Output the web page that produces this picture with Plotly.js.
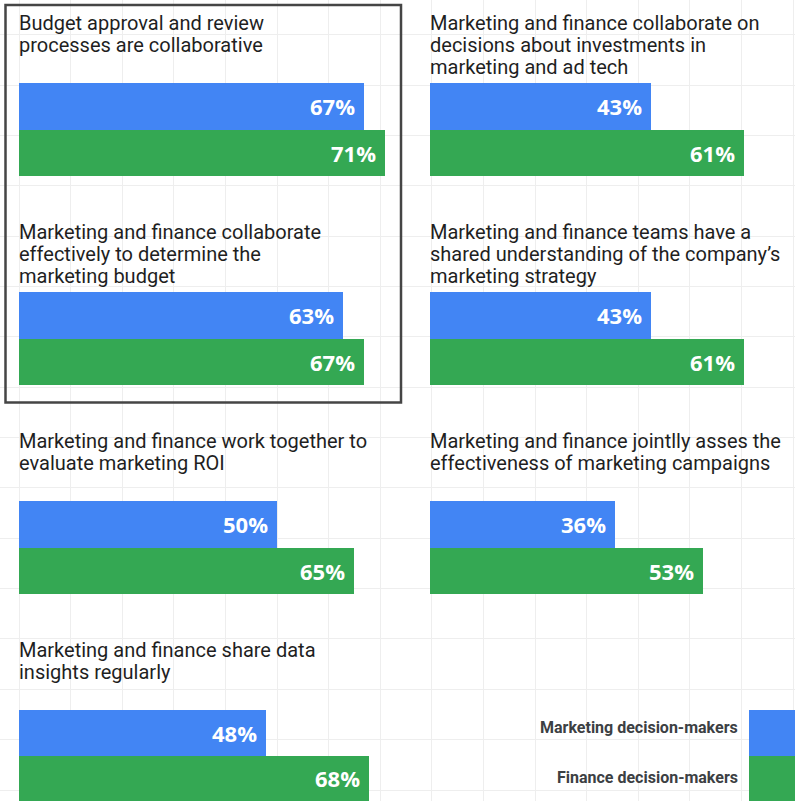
<!DOCTYPE html>
<html>
<head>
<meta charset="utf-8">
<script src="https://cdn.plot.ly/plotly-3.0.1.min.js"></script>
<style>
  html, body { margin: 0; padding: 0; background: #ffffff; }
  #chart { width: 795px; height: 801px; }
</style>
</head>
<body>
<div id="chart"></div>
<script>
// statements, in reading order (left column, right column, row by row)
const statements = [
  ['Budget approval and review', 'processes are collaborative'],
  ['Marketing and finance collaborate on', 'decisions about investments in', 'marketing and ad tech'],
  ['Marketing and finance collaborate', 'effectively to determine the', 'marketing budget'],
  ['Marketing and finance teams have a', 'shared understanding of the company\u2019s', 'marketing strategy'],
  ['Marketing and finance work together to', 'evaluate marketing ROI'],
  ['Marketing and finance jointlly asses the', 'effectiveness of marketing campaigns'],
  ['Marketing and finance share data', 'insights regularly']
];
const marketingPct = [67, 43, 63, 43, 50, 36, 48];
const financePct = [71, 61, 67, 61, 65, 53, 68];
const seriesNames = ['Marketing decision-makers', 'Finance decision-makers'];
const seriesColors = ['#4285F4', '#34A853'];

const W = 795, H = 801;
const pxPerPct = 5.15;
const colLeft = [19, 430];
const rowStep = 209;
const px = v => v / W;
const py = v => 1 - v / H;

const traces = [];
const annotations = [];
const layout = {
  width: W,
  height: H,
  margin: { l: 0, r: 0, t: 0, b: 0 },
  paper_bgcolor: '#ffffff',
  plot_bgcolor: 'rgba(0,0,0,0)',
  showlegend: false,
  barmode: 'group',
  bargap: 0,
  bargroupgap: 0,
  font: { family: 'Roboto, sans-serif', color: '#1f1f1f' },
  // background grid
  xaxis: {
    domain: [0, 1], range: [0, W], tick0: 19, dtick: 51.6,
    showgrid: true, gridcolor: '#eeeeee', gridwidth: 1,
    zeroline: false, showticklabels: false, ticks: '', fixedrange: true
  },
  yaxis: {
    domain: [0, 1], range: [H, 0], tick0: 85, dtick: 50.36,
    showgrid: true, gridcolor: '#eeeeee', gridwidth: 1,
    zeroline: false, showticklabels: false, ticks: '', fixedrange: true
  },
  shapes: []
};
traces.push({ x: [], y: [], type: 'scatter', xaxis: 'x', yaxis: 'y', hoverinfo: 'skip' });

statements.forEach((lines, i) => {
  const col = i % 2;
  const row = Math.floor(i / 2);
  const n = i + 2;
  const xName = 'x' + n, yName = 'y' + n;
  const left = colLeft[col];
  const maxPct = col === 0 ? 72 : 70;
  const top = 83 + rowStep * row;
  const bottom = Math.min(top + 93, H);

  layout['xaxis' + n] = {
    domain: [px(left), Math.min(1, px(left + maxPct * pxPerPct))],
    range: [0, maxPct], anchor: yName,
    showgrid: false, zeroline: false, showticklabels: false, ticks: '', fixedrange: true
  };
  layout['yaxis' + n] = {
    domain: [py(bottom), py(top)], anchor: xName, type: 'category',
    autorange: 'reversed',
    showgrid: false, zeroline: false, showticklabels: false, ticks: '', fixedrange: true
  };

  const vals = [marketingPct[i], financePct[i]];
  vals.forEach((v, s) => {
    traces.push({
      type: 'bar',
      orientation: 'h',
      x: [v],
      y: [seriesNames[s]],
      name: seriesNames[s],
      xaxis: xName,
      yaxis: yName,
      marker: { color: seriesColors[s], line: { width: 0 } },
      hovertemplate: '%{y}: %{x}%<extra></extra>'
    });
    annotations.push({
      xref: xName, yref: yName,
      x: v, y: seriesNames[s],
      xanchor: 'right', yanchor: 'middle',
      xshift: -7,
      text: '<b>' + v + '%</b>',
      showarrow: false,
      font: { size: 22, color: '#ffffff', family: 'Open Sans, sans-serif' }
    });
  });

  lines.forEach((t, j) => {
    annotations.push({
      xref: 'paper', yref: 'paper',
      x: px(left - 2), y: py(23 + rowStep * row + 22 * j),
      xanchor: 'left', yanchor: 'middle',
      text: t,
      showarrow: false,
      font: { size: 20, color: '#1f1f1f' }
    });
  });
});

// legend on the bottom right
const legendTop = 710;
const legendTextY = [727, 777];
seriesNames.forEach((name, s) => {
  const y0 = legendTop + 46 * s;
  layout.shapes.push({
    type: 'rect', xref: 'paper', yref: 'paper',
    x0: px(749), x1: 1, y0: py(Math.min(y0 + 46, H)), y1: py(y0),
    fillcolor: seriesColors[s], line: { width: 0 }
  });
  annotations.push({
    xref: 'paper', yref: 'paper',
    x: px(740), y: py(legendTextY[s]),
    xanchor: 'right', yanchor: 'middle',
    text: '<b>' + name + '</b>',
    showarrow: false,
    font: { size: 16, color: '#3c4043' }
  });
});

// highlight box around the first column's top two statements
layout.shapes.push({
  type: 'rect', xref: 'paper', yref: 'paper',
  x0: px(5.5), x1: px(401), y0: py(402.5), y1: py(5),
  line: { color: '#454545', width: 2.5 }, fillcolor: 'rgba(0,0,0,0)'
});

layout.annotations = annotations;

Plotly.newPlot('chart', traces, layout, { displayModeBar: false, staticPlot: true });
</script>
</body>
</html>
